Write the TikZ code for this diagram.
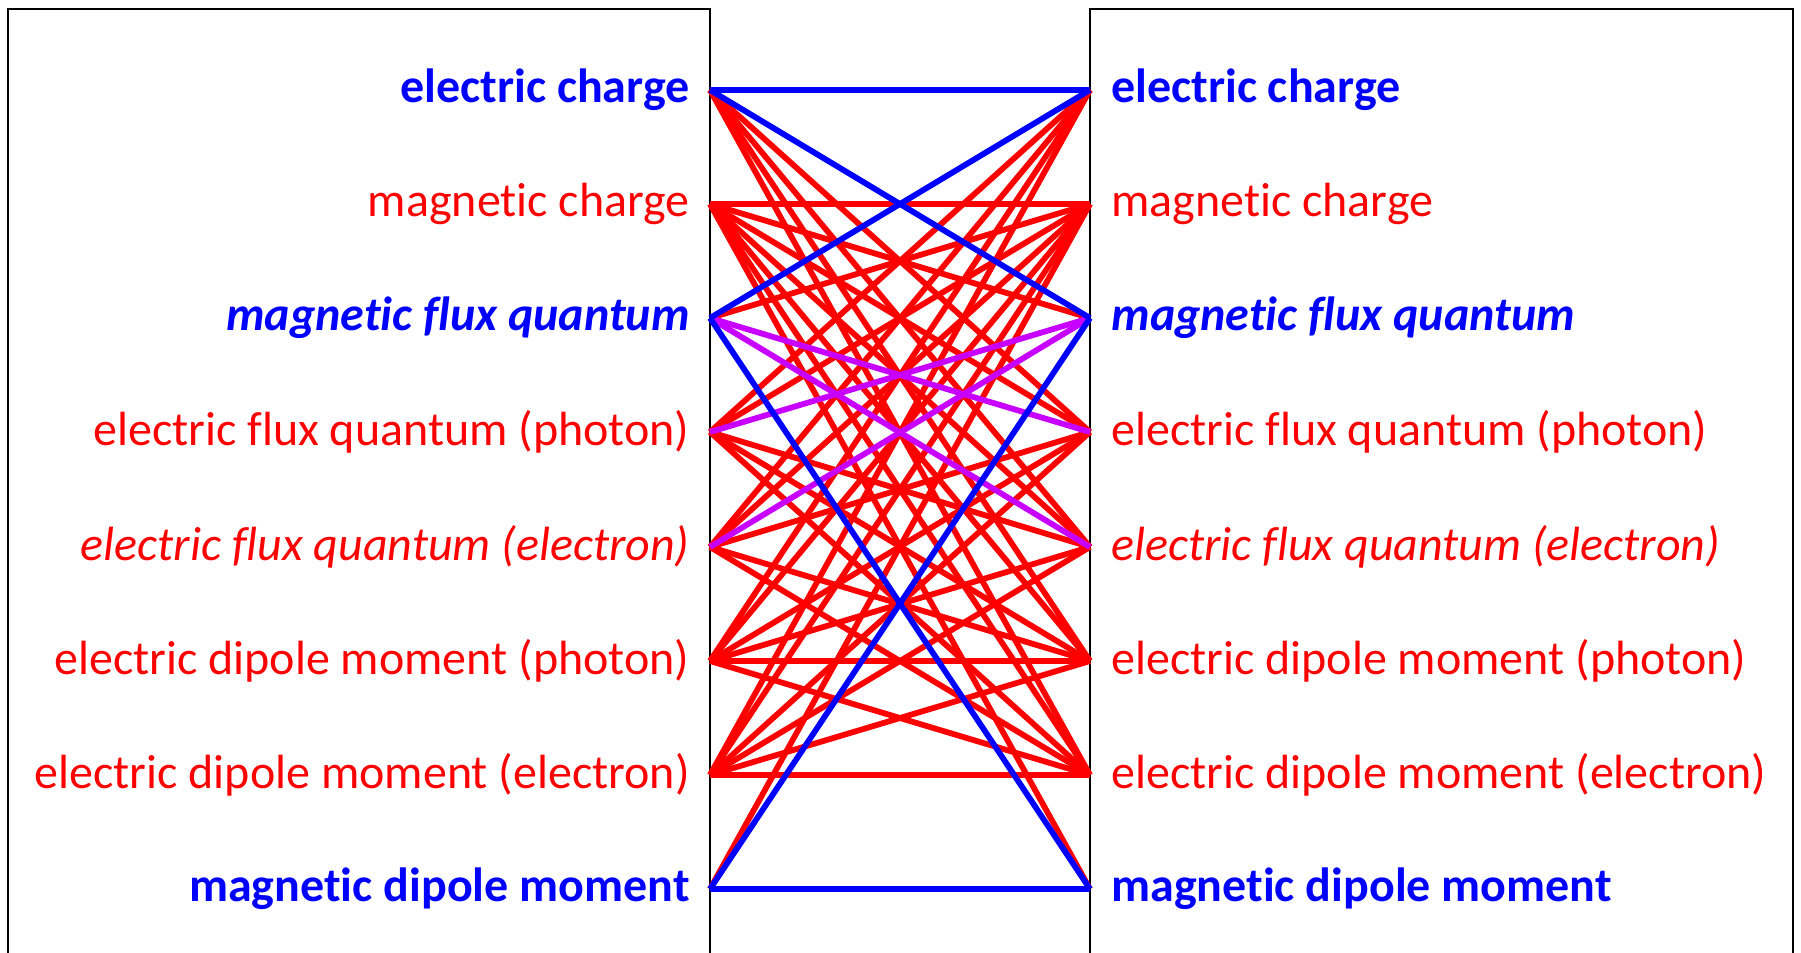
\documentclass[tikz,border=0pt]{standalone}
\usepackage{fontspec}
\setmainfont{Carlito}[Ligatures={NoCommon,NoContextual,NoRare}]
\newcommand{\nlg}{\kern0pt }
\definecolor{eblue}{RGB}{0,0,255}
\definecolor{ered}{RGB}{255,0,0}
\definecolor{epurple}{RGB}{200,0,255}
\begin{document}
\begin{tikzpicture}[x=0.5pt,y=-0.5pt,
  boxline/.style={draw=black,line width=1pt},
  redline/.style={draw=ered,line width=2.9pt},
  purpleline/.style={draw=epurple,line width=2.9pt},
  blueline/.style={draw=eblue,line width=2.9pt},
  lbl/.style={font=\fontsize{24}{28}\selectfont,inner sep=0pt},
  llbl/.style={lbl,anchor=east},
  rlbl/.style={lbl,anchor=west}]
\useasboundingbox (0,0) rectangle (1801,953);
\draw[boxline] (8,960) -- (8,9) -- (710,9) -- (710,960);
\draw[boxline] (1090,960) -- (1090,9) -- (1793,9) -- (1793,960);
\foreach \k/\y in {1/90,2/204,3/318,4/432,5/547,6/661,7/775,8/889}{
  \coordinate (L\k) at (710,\y);
  \coordinate (R\k) at (1090,\y);
}
% red connectors
\foreach \i/\j in {1/4,1/5,1/6,1/7,
  2/2,2/3,2/4,2/5,2/6,2/7,2/8,
  3/2,
  4/1,4/2,4/5,4/6,4/7,
  5/1,5/2,5/4,5/6,5/7,
  6/1,6/2,6/4,6/5,6/6,6/7,
  7/1,7/2,7/4,7/5,7/6,7/7,
  8/2}{
  \draw[redline] (L\i) -- (R\j);
}
% purple connectors
\foreach \i/\j in {3/4,3/5,4/3,5/3}{
  \draw[purpleline] (L\i) -- (R\j);
}
% blue connectors
\foreach \i/\j in {1/1,1/3,3/1,3/8,8/3,8/8}{
  \draw[blueline] (L\i) -- (R\j);
}
% labels
\node[llbl,text=eblue,font=\fontsize{24}{28}\selectfont\bfseries] (tL1) at (690,90) {electric charge};
\node[llbl,text=ered] (tL2) at (690,204) {magnet\nlg ic charge};
\node[llbl,text=eblue,font=\fontsize{24}{28}\selectfont\bfseries\itshape] (tL3) at (690,318) {magnet\nlg ic flux quantum};
\node[llbl,text=ered] (tL4) at (690,432) {electric flux quantum (photon)};
\node[llbl,text=ered,font=\fontsize{24}{28}\selectfont\itshape] (tL5) at (690,547) {electric flux quantum (electron)};
\node[llbl,text=ered] (tL6) at (690,661) {electric dipole moment (photon)};
\node[llbl,text=ered] (tL7) at (690,775) {electric dipole moment (electron)};
\node[llbl,text=eblue,font=\fontsize{24}{28}\selectfont\bfseries] (tL8) at (690,889) {magnet\nlg ic dipole moment};
\node[rlbl,text=eblue,font=\fontsize{24}{28}\selectfont\bfseries] (tR1) at (1111,90) {electric charge};
\node[rlbl,text=ered] (tR2) at (1111,204) {magnet\nlg ic charge};
\node[rlbl,text=eblue,font=\fontsize{24}{28}\selectfont\bfseries\itshape] (tR3) at (1111,318) {magnet\nlg ic flux quantum};
\node[rlbl,text=ered] (tR4) at (1111,432) {electric flux quantum (photon)};
\node[rlbl,text=ered,font=\fontsize{24}{28}\selectfont\itshape] (tR5) at (1111,547) {electric flux quantum (electron)};
\node[rlbl,text=ered] (tR6) at (1111,661) {electric dipole moment (photon)};
\node[rlbl,text=ered] (tR7) at (1111,775) {electric dipole moment (electron)};
\node[rlbl,text=eblue,font=\fontsize{24}{28}\selectfont\bfseries] (tR8) at (1111,889) {magnet\nlg ic dipole moment};
\end{tikzpicture}
\end{document}
